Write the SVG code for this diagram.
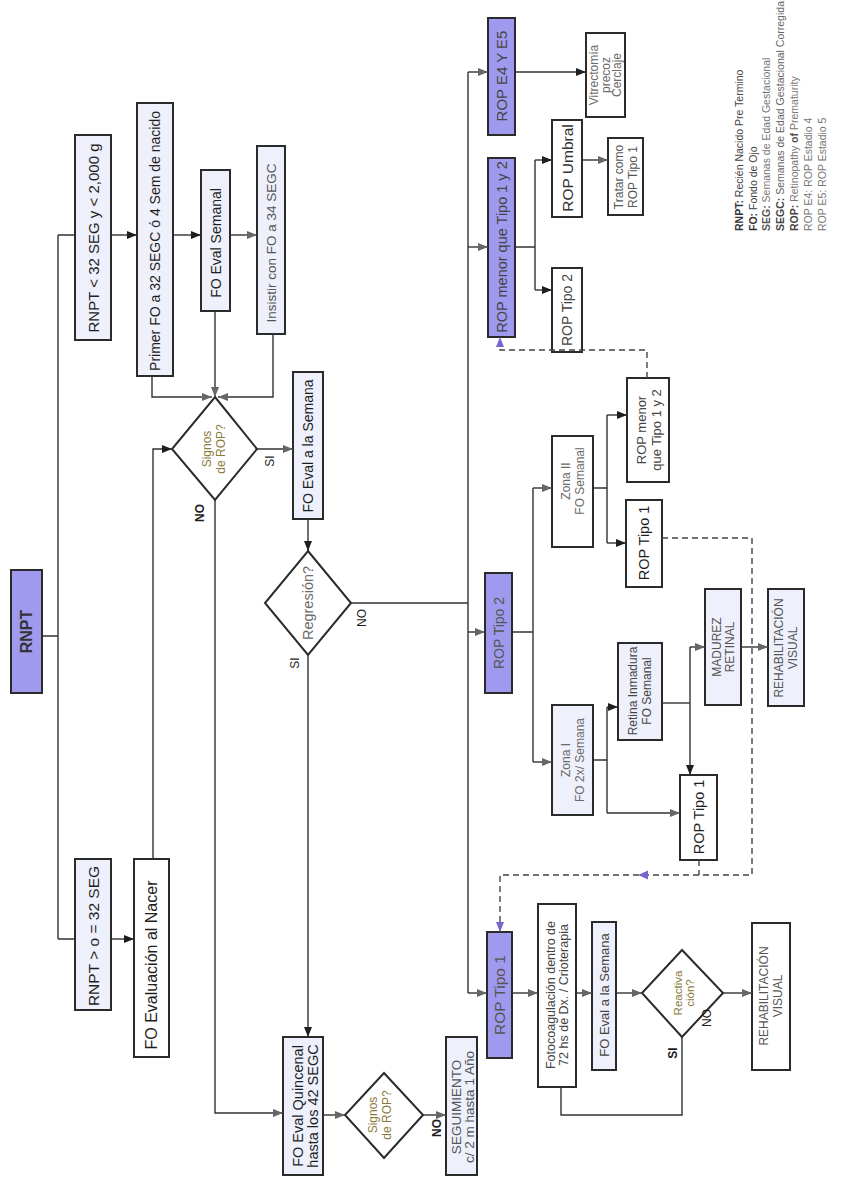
<svg xmlns="http://www.w3.org/2000/svg" width="862" height="1186" viewBox="0 0 862 1186">
<style>
.b{stroke:#2b2b2b;stroke-width:2;fill:#eef0fb}
.w{stroke:#2b2b2b;stroke-width:2;fill:#ffffff}
.p{stroke:#2b2b2b;stroke-width:2;fill:#a09aee}
.dm{stroke:#2b2b2b;stroke-width:2;fill:#ffffff}
.c{fill:none;stroke:#333;stroke-width:1.4}
.d{fill:none;stroke:#444;stroke-width:1.4;stroke-dasharray:6 4}
text{font-family:"Liberation Sans",Arial,sans-serif;text-anchor:middle;dominant-baseline:central}
.k{fill:#1e1e1e}
.g{fill:#555}
.l{fill:#6a6a6a}
.o{fill:#8a7a3c}
.bo{font-weight:bold}
.lg{text-anchor:start;font-size:10.5px}
</style>
<defs>
<marker id="ab" viewBox="0 0 10 8" refX="10" refY="4" markerWidth="10" markerHeight="8" markerUnits="userSpaceOnUse" orient="auto"><path d="M0,0L10,4L0,8z" fill="#1e1e1e"/></marker>
<marker id="ag" viewBox="0 0 10 8" refX="10" refY="4" markerWidth="10" markerHeight="8" markerUnits="userSpaceOnUse" orient="auto"><path d="M0,0L10,4L0,8z" fill="#666"/></marker>
<marker id="ap" viewBox="0 0 10 8" refX="10" refY="4" markerWidth="10" markerHeight="8" markerUnits="userSpaceOnUse" orient="auto"><path d="M0,0L10,4L0,8z" fill="#7468d0"/></marker>
</defs>
<rect width="862" height="1186" fill="#fff"/>

<g id="n-rnpt"><rect class="p" x="11" y="570" width="31" height="123"/><text class="bo" fill="#333" font-size="16" transform="translate(26.5 631.5) rotate(-90)">RNPT</text></g>
<g id="n-rnpt-lt32"><rect class="b" x="75" y="135" width="36" height="205"/><text class="k" font-size="15" transform="translate(93 238) rotate(-90)">RNPT &lt; 32 SEG y &lt; 2,000 g</text></g>
<g id="n-primer"><rect class="b" x="137" y="103" width="36" height="273"/><text class="k" font-size="14" transform="translate(155 241) rotate(-90)">Primer FO a 32 SEGC ó 4 Sem de nacido</text></g>
<g id="n-foevalsem"><rect class="b" x="201" y="170" width="29" height="141"/><text class="k" font-size="14" transform="translate(215.5 243) rotate(-90)">FO Eval Semanal</text></g>
<g id="n-insistir"><rect class="b" x="257" y="146" width="28" height="188"/><text class="g" font-size="13.5" transform="translate(271 243) rotate(-90)">Insistir con FO a 34 SEGC</text></g>
<g id="n-rnpt-ge32"><rect class="b" x="75" y="859" width="36" height="151"/><text class="k" font-size="15.5" transform="translate(93 936) rotate(-90)">RNPT &gt; o = 32 SEG</text></g>
<g id="n-foeval-nacer"><rect class="w" x="134" y="859" width="35" height="198"/><text class="k" font-size="16" transform="translate(151.5 965) rotate(-90)">FO Evaluación al Nacer</text></g>
<g id="n-signos1"><polygon class="dm" points="215,397 257,449 215,500 172,449"/><text class="o" font-size="12" transform="translate(214 449) rotate(-90)"><tspan x="0" y="-7">Signos</tspan><tspan x="0" y="7">de ROP?</tspan></text></g>
<g id="n-foevalsemana1"><rect class="b" x="293" y="372" width="30" height="147"/><text class="k" font-size="14" transform="translate(308 446) rotate(-90)">FO Eval a la Semana</text></g>
<g id="n-regresion"><polygon class="dm" points="308,551 351,603 308,655 265,603"/><text class="l" font-size="14.5" transform="translate(308 603) rotate(-90)">Regresión?</text></g>
<g id="n-quincenal"><rect class="b" x="283" y="1037" width="40" height="138"/><text class="k" font-size="14.5" transform="translate(305.5 1106) rotate(-90)"><tspan x="0" y="-7.5">FO Eval Quincenal</tspan><tspan x="0" y="7.5">hasta los 42 SEGC</tspan></text></g>
<g id="n-signos2"><polygon class="dm" points="384,1073 423,1115 384,1158 345,1115"/><text class="o" font-size="12" transform="translate(380 1115) rotate(-90)"><tspan x="0" y="-7">Signos</tspan><tspan x="0" y="7">de ROP?</tspan></text></g>
<g id="n-seguimiento"><rect class="b" x="446" y="1037" width="31" height="138"/><text class="g" font-size="13.5" transform="translate(462 1107) rotate(-90)"><tspan x="0" y="-6">SEGUIMIENTO</tspan><tspan x="0" y="7">c/ 2 m hasta 1 Año</tspan></text></g>
<g id="n-rop-e4e5"><rect class="p" x="488" y="18" width="27" height="117"/><text fill="#444" font-size="15" transform="translate(501.5 76) rotate(-90)">ROP E4 Y E5</text></g>
<g id="n-rop-menor-p"><rect class="p" x="488" y="158" width="27" height="179"/><text fill="#444" font-size="14.5" transform="translate(501.5 247) rotate(-90)">ROP menor que Tipo 1 y 2</text></g>
<g id="n-rop-tipo2-p"><rect class="p" x="485" y="573" width="27" height="120"/><text class="g" font-size="14" transform="translate(498.5 633) rotate(-90)">ROP Tipo 2</text></g>
<g id="n-rop-tipo1-p"><rect class="p" x="487" y="932" width="25" height="126"/><text class="g" font-size="15.5" transform="translate(499.5 995) rotate(-90)">ROP Tipo 1</text></g>
<g id="n-vitrectomia"><rect class="w" x="586" y="33" width="39" height="84"/><text class="l" font-size="12" transform="translate(605.5 75) rotate(-90)"><tspan x="0" y="-11.5">Vitrectomía</tspan><tspan x="0" y="0">precoz</tspan><tspan x="0" y="11.5">Cerclaje</tspan></text></g>
<g id="n-umbral"><rect class="w" x="552" y="120" width="30" height="97"/><text fill="#333" font-size="15.5" transform="translate(567 168) rotate(-90)">ROP Umbral</text></g>
<g id="n-tipo2-small"><rect class="w" x="552" y="268" width="30" height="84"/><text fill="#444" font-size="14" transform="translate(567 310) rotate(-90)">ROP Tipo 2</text></g>
<g id="n-tratar"><rect class="w" x="608" y="138" width="35" height="77"/><text class="g" font-size="12" transform="translate(625.5 177) rotate(-90)"><tspan x="0" y="-7">Tratar como</tspan><tspan x="0" y="7">ROP Tipo 1</tspan></text></g>
<g id="n-zona2"><rect class="w" x="552" y="436" width="41" height="111"/><text class="l" font-size="12" transform="translate(572.5 481) rotate(-90)"><tspan x="0" y="-7">Zona II</tspan><tspan x="0" y="7">FO Semanal</tspan></text></g>
<g id="n-rop-menor-w"><rect class="w" x="627" y="378" width="42" height="104"/><text fill="#444" font-size="13" transform="translate(648 430) rotate(-90)"><tspan x="0" y="-7">ROP menor</tspan><tspan x="0" y="8">que Tipo 1 y 2</tspan></text></g>
<g id="n-tipo1-a"><rect class="w" x="626" y="500" width="36" height="87"/><text class="k" font-size="14.5" transform="translate(644 543) rotate(-90)">ROP Tipo 1</text></g>
<g id="n-zona1"><rect class="b" x="552" y="705" width="41" height="110"/><text class="l" font-size="12" transform="translate(572.5 760) rotate(-90)"><tspan x="0" y="-7">Zona I</tspan><tspan x="0" y="7">FO 2x/ Semana</tspan></text></g>
<g id="n-retina"><rect class="b" x="618" y="643" width="44" height="97"/><text fill="#444" font-size="12" transform="translate(640 691) rotate(-90)"><tspan x="0" y="-7">Retina Inmadura</tspan><tspan x="0" y="7">FO Semanal</tspan></text></g>
<g id="n-madurez"><rect class="b" x="705" y="589" width="36" height="116"/><text class="g" font-size="12" transform="translate(723 647) rotate(-90)"><tspan x="0" y="-6.5">MADUREZ</tspan><tspan x="0" y="6.5">RETINAL</tspan></text></g>
<g id="n-rehab-a"><rect class="b" x="768" y="589" width="36" height="117"/><text class="g" font-size="12" transform="translate(786 648) rotate(-90)"><tspan x="0" y="-7">REHABILITACIÓN</tspan><tspan x="0" y="7">VISUAL</tspan></text></g>
<g id="n-tipo1-b"><rect class="w" x="680" y="775" width="37" height="85"/><text class="k" font-size="14.5" transform="translate(698.5 817) rotate(-90)">ROP Tipo 1</text></g>
<g id="n-fotocoag"><rect class="w" x="538" y="904" width="38" height="183"/><text fill="#444" font-size="12.5" transform="translate(557 995) rotate(-90)"><tspan x="0" y="-6.5">Fotocoagulación dentro de</tspan><tspan x="0" y="6.5">72 hs de Dx. / Crioterapia</tspan></text></g>
<g id="n-foevalsemana2"><rect class="b" x="592" y="922" width="24" height="148"/><text fill="#444" font-size="13" transform="translate(604 995) rotate(-90)">FO Eval a la Semana</text></g>
<g id="n-reactiva"><polygon class="dm" points="682,950 723,993 682,1037 642,993"/><text class="o" font-size="11.5" transform="translate(684 993) rotate(-90)"><tspan x="0" y="-6">Reactiva</tspan><tspan x="0" y="6">ción?</tspan></text></g>
<g id="n-rehab-b"><rect class="w" x="752" y="923" width="38" height="147"/><text class="g" font-size="12" transform="translate(771 996) rotate(-90)"><tspan x="0" y="-7">REHABILITACIÓN</tspan><tspan x="0" y="7">VISUAL</tspan></text></g>

<g id="connectors">
<path class="c" d="M42,636H58M58,235V939M58,235H75M58,939H75"/>
<path class="c" d="M111,235H137" marker-end="url(#ab)"/>
<path class="c" d="M173,235H201" marker-end="url(#ab)"/>
<path class="c" d="M230,235H257" marker-end="url(#ag)"/>
<path class="c" d="M152,376V397H212" marker-end="url(#ag)"/>
<path class="c" d="M215,311V397" marker-end="url(#ag)"/>
<path class="c" d="M273,334V397H218" marker-end="url(#ag)"/>
<path class="c" d="M153,859V449H172" marker-end="url(#ab)"/>
<path class="c" d="M111,939H134" marker-end="url(#ab)"/>
<path class="c" d="M257,449H293" marker-end="url(#ag)"/>
<path class="c" d="M215,500V1113H283" marker-end="url(#ag)"/>
<path class="c" d="M308,519V551" marker-end="url(#ab)"/>
<path class="c" d="M351,603H468M468,72V993"/>
<path class="c" d="M468,72H488" marker-end="url(#ag)"/>
<path class="c" d="M468,247H488" marker-end="url(#ag)"/>
<path class="c" d="M468,632H485" marker-end="url(#ag)"/>
<path class="c" d="M468,993H487" marker-end="url(#ag)"/>
<path class="c" d="M308,655V1037" marker-end="url(#ab)"/>
<path class="c" d="M323,1115H345" marker-end="url(#ag)"/>
<path class="c" d="M423,1115H446" marker-end="url(#ag)"/>
<path class="c" d="M512,993H538" marker-end="url(#ag)"/>
<path class="c" d="M576,993H592" marker-end="url(#ag)"/>
<path class="c" d="M616,993H642" marker-end="url(#ag)"/>
<path class="c" d="M723,993H752" marker-end="url(#ag)"/>
<path class="c" d="M682,1037V1115H561V1087"/>
<path class="c" d="M512,632H533M533,488V762"/>
<path class="c" d="M533,488H552" marker-end="url(#ag)"/>
<path class="c" d="M533,762H552" marker-end="url(#ag)"/>
<path class="c" d="M593,488H607M607,415V543"/>
<path class="c" d="M607,415H627" marker-end="url(#ab)"/>
<path class="c" d="M607,543H626" marker-end="url(#ab)"/>
<path class="c" d="M593,760H607M607,707V813"/>
<path class="c" d="M607,707H618" marker-end="url(#ab)"/>
<path class="c" d="M607,813H680" marker-end="url(#ag)"/>
<path class="c" d="M662,703H690"/>
<path class="c" d="M690,647V775" marker-end="url(#ab)"/>
<path class="c" d="M690,647H705" marker-end="url(#ag)"/>
<path class="c" d="M741,647H768" marker-end="url(#ag)"/>
<path class="c" d="M515,247H535M535,160V290"/>
<path class="c" d="M535,160H552" marker-end="url(#ab)"/>
<path class="c" d="M535,290H552" marker-end="url(#ab)"/>
<path class="c" d="M582,160H608" marker-end="url(#ag)"/>
<path class="c" d="M515,72H586" marker-end="url(#ab)"/>
<path class="d" d="M647,378V350H500V337" marker-end="url(#ap)"/>
<path class="d" d="M662,538H752V875H500V932" marker-end="url(#ap)"/>
<path class="d" d="M699,860V875"/>
<path d="M638,875L648,870.5L648,879.5z" fill="#7468d0"/>
<text class="k" font-size="12" transform="translate(270 461) rotate(-90)">SI</text>
<text class="k bo" font-size="12" transform="translate(200 513) rotate(-90)">NO</text>
<text class="k" font-size="12" transform="translate(362 618) rotate(-90)">NO</text>
<text class="k" font-size="12" transform="translate(295 663) rotate(-90)">SI</text>
<text class="k bo" font-size="12" transform="translate(437 1128) rotate(-90)">NO</text>
<text class="k" font-size="12" transform="translate(707 1018) rotate(-90)">NO</text>
<text class="k bo" font-size="12" transform="translate(673 1053) rotate(-90)">SI</text>
</g>

<g id="legend">
<text class="lg" fill="#444" transform="translate(739 231) rotate(-90)"><tspan class="bo" fill="#333">RNPT:</tspan> Recién Nacido Pre Termino</text>
<text class="lg" fill="#444" transform="translate(752.5 231) rotate(-90)"><tspan class="bo" fill="#333">FO:</tspan> Fondo de Ojo</text>
<text class="lg" fill="#777" transform="translate(766 231) rotate(-90)"><tspan class="bo" fill="#555">SEG:</tspan> Semanas de Edad Gestacional</text>
<text class="lg" fill="#666" transform="translate(780 231) rotate(-90)"><tspan class="bo" fill="#444">SEGC:</tspan> Semanas de Edad Gestacional Corregida</text>
<text class="lg" fill="#777" transform="translate(794 231) rotate(-90)"><tspan class="bo" fill="#444">ROP:</tspan> Retinopathy <tspan class="bo" fill="#555">of</tspan> Prematurity</text>
<text class="lg" fill="#777" transform="translate(808 231) rotate(-90)">ROP E4: ROP Estadio 4</text>
<text class="lg" fill="#777" transform="translate(821.5 231) rotate(-90)">ROP E5: ROP Estadio 5</text>
</g>
</svg>
